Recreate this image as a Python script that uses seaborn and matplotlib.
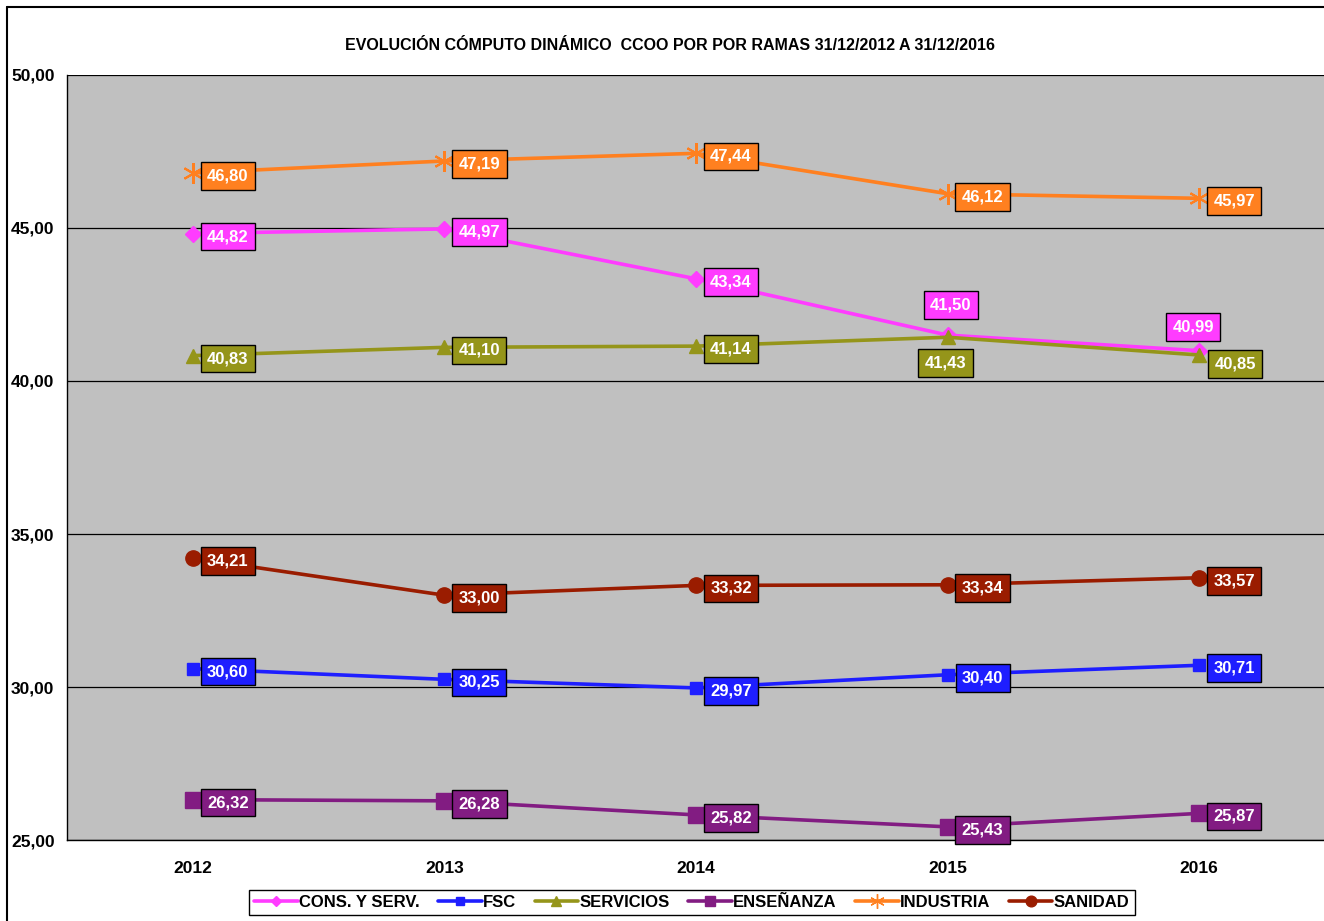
"""Evolución cómputo dinámico CCOO por ramas 2012-2016."""
import matplotlib
matplotlib.use("Agg")
import matplotlib.pyplot as plt
from matplotlib.lines import Line2D
import seaborn as sns

YEARS = ["2012", "2013", "2014", "2015", "2016"]

CONS_SERV = [44.82, 44.97, 43.34, 41.50, 40.99]
FSC = [30.60, 30.25, 29.97, 30.40, 30.71]
SERVICIOS = [40.83, 41.10, 41.14, 41.43, 40.85]
ENSENANZA = [26.32, 26.28, 25.82, 25.43, 25.87]
INDUSTRIA = [46.80, 47.19, 47.44, 46.12, 45.97]
SANIDAD = [34.21, 33.00, 33.32, 33.34, 33.57]

SERIES = [
    ("CONS. Y SERV.", CONS_SERV, "#FF3CFF", "D", 8),
    ("FSC", FSC, "#1E1EFF", "s", 9),
    ("SERVICIOS", SERVICIOS, "#95951A", "^", 10),
    ("ENSEÑANZA", ENSENANZA, "#821C82", "s", 11),
    ("INDUSTRIA", INDUSTRIA, "#FF8020", (6, 2, 0), 15),
    ("SANIDAD", SANIDAD, "#9A1C00", "o", 11),
]

# label offsets in pixels (default: to the right of the point)
DEFAULT_OFF = (35, -3)
OFFSETS = {
    ("CONS. Y SERV.", 3): (3, 30),
    ("CONS. Y SERV.", 4): (-6, 24),
    ("SERVICIOS", 3): (-2, -26),
    ("SERVICIOS", 4): (36, -9),
}


def fmt(v):
    return f"{v:.2f}".replace(".", ",")


sns.set_theme(style="white")
plt.rcParams["font.family"] = ["Liberation Sans", "DejaVu Sans"]
plt.rcParams["font.weight"] = "bold"
plt.rcParams["text.color"] = "black"
plt.rcParams["xtick.color"] = "black"
plt.rcParams["ytick.color"] = "black"

fig = plt.figure(figsize=(13.24, 9.21), dpi=100)
ax = fig.add_axes([67 / 1324, 81 / 921, 1258 / 1324, 765 / 921])
ax.set_facecolor("#C0C0C0")

x = list(range(len(YEARS)))
for name, vals, color, marker, ms in SERIES:
    sns.lineplot(x=x, y=vals, ax=ax, color=color, linewidth=2.6,
                 marker=marker, markersize=ms, markeredgecolor=color,
                 markeredgewidth=1.5 if marker == (6, 2, 0) else 1,
                 label=name, zorder=3)
    for i, v in enumerate(vals):
        dx, dy = OFFSETS.get((name, i), DEFAULT_OFF)
        ax.annotate(fmt(v), (i, v), xytext=(dx, dy), textcoords="offset pixels",
                    ha="center", va="center", color="white", fontsize=12,
                    fontweight="bold", zorder=5,
                    bbox=dict(boxstyle="square,pad=0.38", fc=color, ec="black", lw=1))

ax.set_xlim(-0.5, len(YEARS) - 0.5)
ax.set_ylim(25, 50)
ax.set_yticks([25, 30, 35, 40, 45, 50])
ax.set_yticklabels([fmt(t) for t in [25, 30, 35, 40, 45, 50]], fontsize=12.5, fontweight="bold")
ax.set_xticks(x)
ax.set_xticklabels(YEARS, fontsize=12.5, fontweight="bold")
ax.set_xticks([i - 0.5 for i in range(len(YEARS) + 1)], minor=True)
ax.tick_params(axis="x", which="major", length=0, pad=15)
ax.tick_params(axis="x", which="minor", length=5, color="black", width=1, direction="out")
ax.tick_params(axis="y", length=5, color="black", width=1, direction="out", pad=4)
ax.yaxis.grid(True, color="black", linewidth=0.9)
ax.set_axisbelow(True)
for side in ["top", "right"]:
    ax.spines[side].set_visible(False)
for side in ["left", "bottom"]:
    ax.spines[side].set_color("black")
    ax.spines[side].set_linewidth(1)

fig.text(670 / 1324, 1 - 45 / 921, "EVOLUCIÓN CÓMPUTO DINÁMICO  CCOO POR POR RAMAS 31/12/2012 A 31/12/2016",
         ha="center", va="center", fontsize=11.5, fontweight="bold")

handles = [Line2D([], [], color=c, marker=m, markersize=ms * 0.7, linewidth=2.6,
                  markeredgecolor=c) for _, _, c, m, ms in SERIES]
ax.legend(handles, [s[0] for s in SERIES], ncol=6, loc="center",
          bbox_to_anchor=(692 / 1324, 1 - 902 / 921), bbox_transform=fig.transFigure,
          frameon=True, fancybox=False, edgecolor="black", framealpha=1,
          prop={"weight": "bold", "size": 12}, handlelength=2.6, handletextpad=0.1,
          columnspacing=1.1, borderpad=0.3)

# outer chart border
fig.add_artist(Line2D([7 / 1324, 7 / 1324], [0, 1 - 7 / 921], color="black", lw=1.5,
                      transform=fig.transFigure))
fig.add_artist(Line2D([7 / 1324, 1], [1 - 7 / 921, 1 - 7 / 921], color="black", lw=1.5,
                      transform=fig.transFigure))

fig.savefig("out.png", dpi=100)
